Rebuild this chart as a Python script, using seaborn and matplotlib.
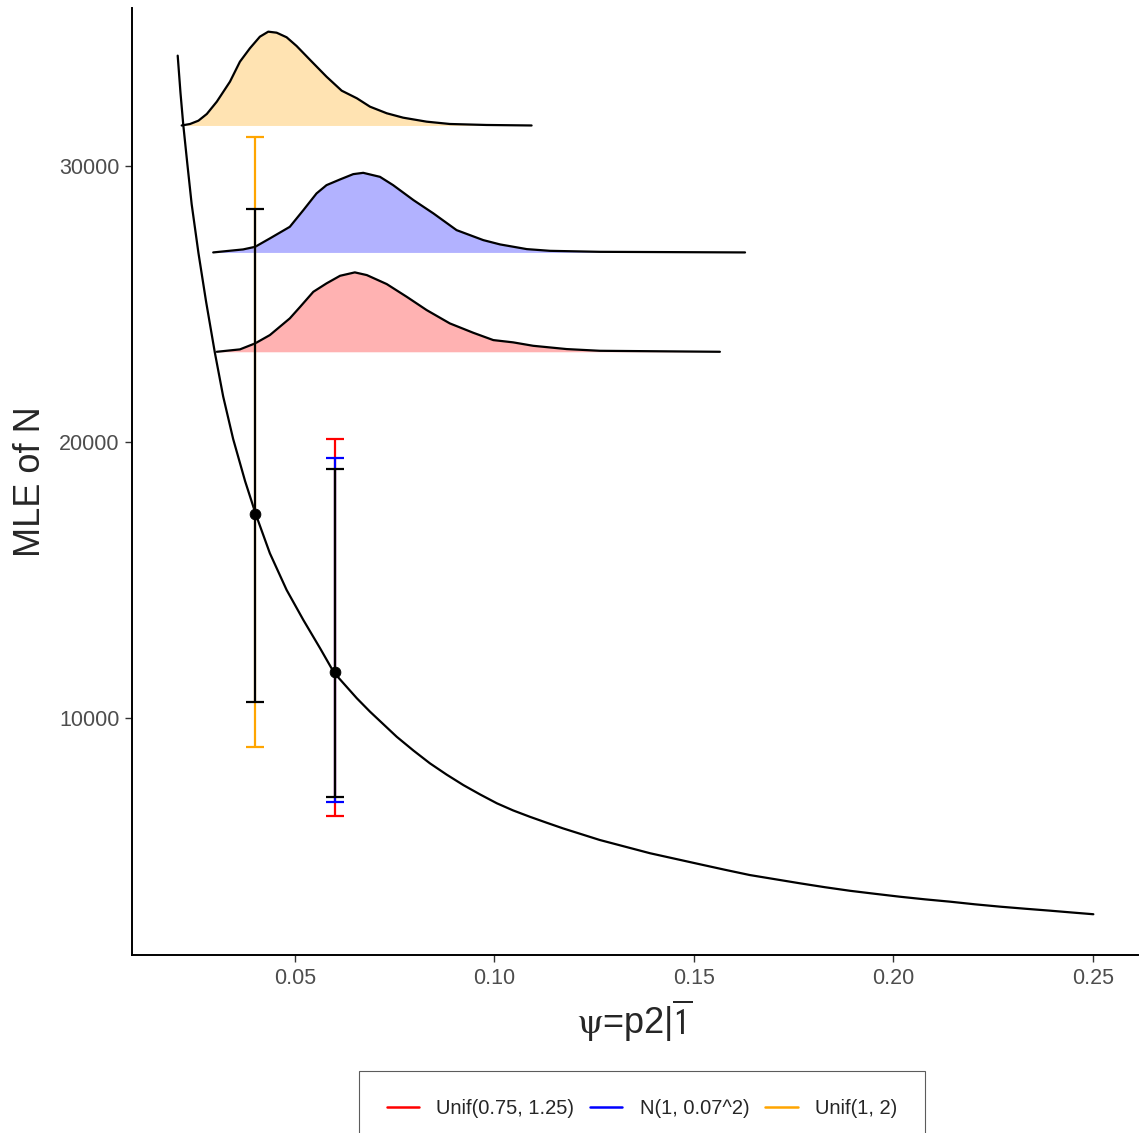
import numpy as np
import pandas as pd
import matplotlib
matplotlib.use('Agg')
import matplotlib.pyplot as plt
import seaborn as sns

# MLE of N against psi
psi_curve = [0.0206, 0.0213, 0.0220, 0.0230, 0.0241, 0.0258, 0.0277, 0.0299, 0.0320,
             0.0345, 0.0375, 0.0402, 0.0437, 0.0479, 0.0521, 0.0563, 0.0598, 0.0655,
             0.0688, 0.0755, 0.0797, 0.0838, 0.0880, 0.0922, 0.0964, 0.1006, 0.1047,
             0.1089, 0.1130, 0.1172, 0.1218, 0.1264, 0.1390, 0.1515, 0.1578, 0.1640,
             0.1703, 0.1766, 0.1828, 0.1891, 0.1954, 0.2016, 0.2079, 0.2142, 0.2204,
             0.2267, 0.2330, 0.2392, 0.2450, 0.2501]
n_curve = [34000, 32650, 31490, 30100, 28620, 26850, 25100, 23250, 21650,
           20110, 18580, 17370, 15970, 14640, 13550, 12525, 11640, 10715,
           10230, 9320, 8820, 8360, 7950, 7570, 7230, 6910, 6650,
           6420, 6210, 6000, 5790, 5580, 5100, 4700, 4500, 4310,
           4160, 4010, 3870, 3740, 3630, 3525, 3430, 3345, 3250,
           3165, 3090, 3020, 2950, 2890]

# ridge densities (height above their baseline, in N units)
orange_x = [0.0216, 0.0237, 0.0258, 0.0279, 0.0304, 0.0337, 0.0362, 0.0387, 0.0412,
            0.0433, 0.0454, 0.0479, 0.0504, 0.0538, 0.0579, 0.0617, 0.0655, 0.0688,
            0.0730, 0.0771, 0.0830, 0.0888, 0.0980, 0.1093]
orange_h = [0, 54, 174, 417, 862, 1587, 2312, 2797, 3217,
            3399, 3362, 3196, 2880, 2373, 1768, 1261, 986, 681,
            442, 283, 138, 54, 18, 0]
blue_x = [0.0295, 0.0370, 0.0400, 0.0437, 0.0487, 0.0521, 0.0554, 0.0579, 0.0613,
          0.0646, 0.0671, 0.0713, 0.0746, 0.0797, 0.0847, 0.0905, 0.0972, 0.1014,
          0.1081, 0.1139, 0.1264, 0.1628]
blue_h = [0, 109, 203, 507, 928, 1533, 2138, 2438, 2645,
          2837, 2884, 2739, 2438, 1895, 1413, 808, 446, 290,
          120, 58, 22, 0]
red_x = [0.0304, 0.0362, 0.0400, 0.0437, 0.0487, 0.0513, 0.0546, 0.0579, 0.0613,
         0.0650, 0.0680, 0.0730, 0.0780, 0.0830, 0.0888, 0.0947, 0.0997, 0.1047,
         0.1097, 0.1181, 0.1264, 0.1565]
red_h = [0, 87, 304, 605, 1210, 1630, 2174, 2478, 2754,
         2877, 2779, 2453, 1993, 1511, 1029, 688, 424, 341,
         217, 98, 36, 0]
ridge_base = {'orange': 31470, 'blue': 26870, 'red': 23270}

# MLE points and intervals
pt_psi = [0.04, 0.06]
pt_n = [17400, 11660]
black_lo = [10580, 7140]
black_hi = [28440, 19020]
prior_psi = [0.06, 0.06, 0.04]
prior_lo = [6450, 6960, 8950]
prior_hi = [20110, 19420, 31050]
prior_labels = ['Unif(0.75, 1.25)', 'N(1, 0.07^2)', 'Unif(1, 2)']
prior_colors = ['red', 'blue', 'orange']

sns.set_style('ticks')
plt.rcParams['font.family'] = ['Liberation Sans', 'DejaVu Sans']
plt.rcParams['mathtext.fontset'] = 'stix'

fig = plt.figure(figsize=(11.41, 11.33), dpi=100)
ax = fig.add_axes([0.1157, 0.1571, 0.8817, 0.8358])

for col, xs, hs in [('orange', orange_x, orange_h), ('blue', blue_x, blue_h), ('red', red_x, red_h)]:
    base = ridge_base[col]
    top = [base + h for h in hs]
    ax.fill_between(xs, base, top, color=col, alpha=0.3, lw=0)
    sns.lineplot(x=xs, y=top, color='black', lw=1.6, estimator=None, sort=False, ax=ax)

sns.lineplot(x=psi_curve, y=n_curve, color='black', lw=1.6, estimator=None, sort=False, ax=ax)

for x, lo, hi, col in zip(prior_psi, prior_lo, prior_hi, prior_colors):
    mid = (lo + hi) / 2
    ax.errorbar([x], [mid], yerr=[[mid - lo], [hi - mid]], fmt='none', ecolor=col,
                elinewidth=1.6, capsize=6.8, capthick=1.6)
for x, y, lo, hi in zip(pt_psi, pt_n, black_lo, black_hi):
    ax.errorbar([x], [y], yerr=[[y - lo], [hi - y]], fmt='none', ecolor='black',
                elinewidth=1.6, capsize=6.8, capthick=1.6, zorder=4)
sns.scatterplot(x=pt_psi, y=pt_n, color='black', s=60, edgecolor='black', zorder=5, ax=ax)

ax.set_xlim(0.00915, 0.2613)
ax.set_ylim(1413, 35725)
ax.set_xticks([0.05, 0.10, 0.15, 0.20, 0.25])
ax.set_xticklabels(['0.05', '0.10', '0.15', '0.20', '0.25'])
ax.set_yticks([10000, 20000, 30000])
ax.tick_params(labelsize=15.5, colors='#333333', labelcolor='#4D4D4D', length=5, width=1, pad=4)
for s in ['left', 'bottom']:
    ax.spines[s].set_linewidth(1.4)
    ax.spines[s].set_color('black')
sns.despine(ax=ax)

ax.set_xlabel(r'$\mathrm{\psi}$=p2|$\overline{\mathsf{1}}$', fontsize=26, labelpad=6)
ax.set_ylabel('MLE of N', fontsize=26, labelpad=8)

handles = [plt.Line2D([], [], color=c, lw=1.8) for c in prior_colors]
leg = fig.legend(handles, prior_labels, loc='upper center', bbox_to_anchor=(0.5625, 0.0547),
                 ncol=3, fontsize=14.5, frameon=True, fancybox=False, borderpad=1.4,
                 borderaxespad=0, handlelength=1.6, handletextpad=0.85, columnspacing=0.8)
leg.get_frame().set_edgecolor('#333333')
leg.get_frame().set_linewidth(0.8)

fig.savefig('out.png', dpi=100)
